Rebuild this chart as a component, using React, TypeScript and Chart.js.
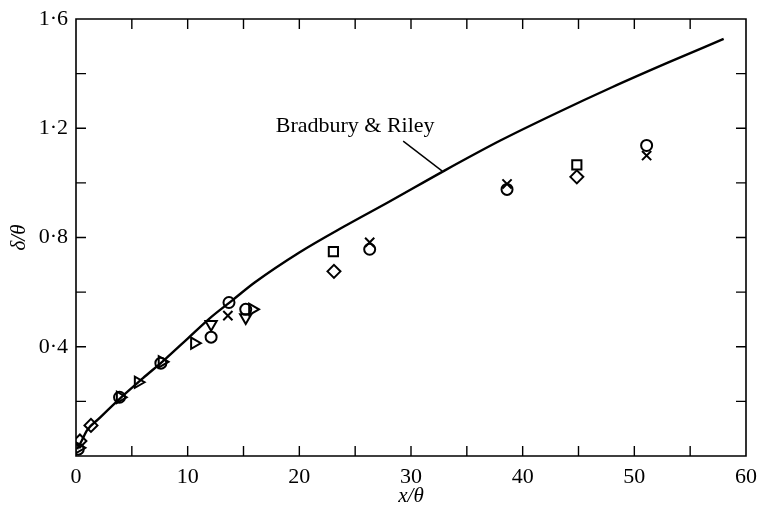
import React, { useEffect, useRef } from "react";
import { Chart, registerables } from "chart.js";

Chart.register(...registerables);

// Axis ticks
const xTicks = [0, 10, 20, 30, 40, 50, 60];
const xTickLabels = ["0", "10", "20", "30", "40", "50", "60"];
const xMarks = [5, 10, 15, 20, 25, 30, 35, 40, 45, 50, 55];
const yTicks = [0.4, 0.8, 1.2, 1.6];
const yTickLabels = ["0·4", "0·8", "1·2", "1·6"];
const yMarks = [0.2, 0.4, 0.6, 0.8, 1.0, 1.2, 1.4];

// Bradbury & Riley curve
const curveX = [0.1, 0.5, 1, 2, 4, 6, 8, 10, 12, 14, 16, 20, 24, 28, 33, 38, 43, 48, 53, 58];
const curveY = [0.025, 0.055, 0.095, 0.135, 0.213, 0.285, 0.355, 0.43, 0.505, 0.57, 0.635, 0.745, 0.84, 0.93, 1.045, 1.155, 1.255, 1.35, 1.44, 1.527];

// Measured points by marker type
const circleX = [0.2, 3.9, 7.6, 12.1, 13.7, 15.2, 26.3, 38.6, 51.1];
const circleY = [0.025, 0.215, 0.34, 0.435, 0.562, 0.537, 0.757, 0.976, 1.137];
const crossX = [13.6, 26.3, 38.6, 51.1];
const crossY = [0.514, 0.782, 0.996, 1.1];
const squareX = [23.05, 44.85];
const squareY = [0.748, 1.066];
const diamondX = [0.35, 1.34, 23.1, 44.85];
const diamondY = [0.055, 0.112, 0.676, 1.022];
const rightTriX = [0.25, 3.95, 5.56, 7.7, 10.6, 15.8];
const rightTriY = [0.03, 0.215, 0.27, 0.345, 0.413, 0.537];
const downTriX = [12.1, 15.2];
const downTriY = [0.482, 0.507];

// Annotation (data coordinates)
const annotationText = "Bradbury & Riley";
const annotationTextAt = [25.0, 1.207];
const annotationLineFrom = [29.3, 1.153];
const annotationLineTo = [32.8, 1.043];

const FONT = "'Liberation Serif', 'DejaVu Serif', serif";

const toPts = (xs: number[], ys: number[]) => xs.map((x, i) => ({ x, y: ys[i] }));

const framePlugin = {
  id: "frameTicks",
  afterDatasetsDraw(chart: any) {
    const { ctx, chartArea } = chart;
    const xs = chart.scales.x;
    const ys = chart.scales.y;
    const { left, right, top, bottom } = chartArea;
    const tl = 10;
    ctx.save();
    ctx.strokeStyle = "#000";
    ctx.lineWidth = 1.6;
    ctx.beginPath();
    ctx.rect(left, top, right - left, bottom - top);
    ctx.stroke();
    ctx.lineWidth = 1.4;
    ctx.beginPath();
    xMarks.forEach((v) => {
      const px = xs.getPixelForValue(v);
      ctx.moveTo(px, bottom);
      ctx.lineTo(px, bottom - tl);
      ctx.moveTo(px, top);
      ctx.lineTo(px, top + tl);
    });
    yMarks.forEach((v) => {
      const py = ys.getPixelForValue(v);
      ctx.moveTo(left, py);
      ctx.lineTo(left + tl, py);
      ctx.moveTo(right, py);
      ctx.lineTo(right - tl, py);
    });
    ctx.stroke();
    // annotation
    ctx.lineWidth = 1.4;
    ctx.beginPath();
    ctx.moveTo(xs.getPixelForValue(annotationLineFrom[0]), ys.getPixelForValue(annotationLineFrom[1]));
    ctx.lineTo(xs.getPixelForValue(annotationLineTo[0]), ys.getPixelForValue(annotationLineTo[1]));
    ctx.stroke();
    ctx.fillStyle = "#000";
    ctx.font = `22px ${FONT}`;
    ctx.textAlign = "center";
    ctx.textBaseline = "middle";
    ctx.fillText(annotationText, xs.getPixelForValue(annotationTextAt[0]), ys.getPixelForValue(annotationTextAt[1]));
    ctx.restore();
  },
};

const markerBase = {
  type: "scatter" as const,
  showLine: false,
  borderColor: "#000",
  backgroundColor: "rgba(0,0,0,0)",
  borderWidth: 2,
};

export default function App() {
  const ref = useRef<HTMLCanvasElement | null>(null);
  useEffect(() => {
    if (!ref.current) return;
    const chart = new Chart(ref.current, {
      type: "scatter",
      data: {
        datasets: [
          {
            type: "line",
            label: "Bradbury & Riley",
            data: toPts(curveX, curveY),
            borderColor: "#000",
            borderWidth: 2.4,
            pointRadius: 0,
            fill: false,
            cubicInterpolationMode: "monotone",
          } as any,
          { ...markerBase, label: "circle", data: toPts(circleX, circleY), pointStyle: "circle", pointRadius: 5.5 },
          { ...markerBase, label: "cross", data: toPts(crossX, crossY), pointStyle: "crossRot", pointRadius: 6.5 },
          { ...markerBase, label: "square", data: toPts(squareX, squareY), pointStyle: "rect", pointRadius: 6.5 },
          { ...markerBase, label: "diamond", data: toPts(diamondX, diamondY), pointStyle: "rectRot", pointRadius: 6.5 },
          { ...markerBase, label: "rightTri", data: toPts(rightTriX, rightTriY), pointStyle: "triangle", pointRotation: 90, pointRadius: 6.5 },
          { ...markerBase, label: "downTri", data: toPts(downTriX, downTriY), pointStyle: "triangle", pointRotation: 180, pointRadius: 6.5 },
        ],
      },
      options: {
        animation: false,
        responsive: false,
        layout: { padding: { top: 19, right: 11, left: 0, bottom: 0 } },
        plugins: { legend: { display: false }, tooltip: { enabled: false } },
        scales: {
          x: {
            type: "linear",
            position: "bottom",
            min: 0,
            max: 60,
            grid: { display: false, drawTicks: false },
            border: { display: false },
            afterBuildTicks: (s: any) => {
              s.ticks = xTicks.map((v) => ({ value: v }));
            },
            afterFit: (s: any) => {
              s.height = 53;
              s.paddingLeft = 0;
              s.paddingRight = 0;
              s.paddingTop = 0;
              s.paddingBottom = 0;
            },
            ticks: {
              autoSkip: false,
              maxRotation: 0,
              padding: 8,
              color: "#000",
              font: { family: FONT, size: 22 },
              callback: (v: any) => {
                const i = xTicks.indexOf(Number(v));
                return i >= 0 ? xTickLabels[i] : "";
              },
            },
            title: {
              display: true,
              text: "x/θ",
              color: "#000",
              font: { family: FONT, size: 21, style: "italic" },
              padding: { top: 0, bottom: 0 },
            },
          },
          y: {
            type: "linear",
            min: 0,
            max: 1.6,
            grid: { display: false, drawTicks: false },
            border: { display: false },
            afterBuildTicks: (s: any) => {
              s.ticks = yTicks.map((v) => ({ value: v }));
            },
            afterFit: (s: any) => {
              s.width = 76;
              s.paddingLeft = 0;
              s.paddingRight = 0;
              s.paddingTop = 0;
              s.paddingBottom = 0;
            },
            ticks: {
              autoSkip: false,
              padding: 8,
              color: "#000",
              font: { family: FONT, size: 22 },
              callback: (v: any) => {
                const i = yTicks.indexOf(Number(v));
                return i >= 0 ? yTickLabels[i] : "";
              },
            },
            title: {
              display: true,
              text: "δ/θ",
              color: "#000",
              font: { family: FONT, size: 21, style: "italic" },
              padding: { top: 7, bottom: 0 },
            },
          },
        },
      },
      plugins: [framePlugin],
    } as any);
    return () => chart.destroy();
  }, []);
  return (
    <div style={{ position: "fixed", left: 0, top: 0, width: 757, height: 509, background: "#fff" }}>
      <canvas ref={ref} width={757} height={509} style={{ display: "block" }} />
    </div>
  );
}
